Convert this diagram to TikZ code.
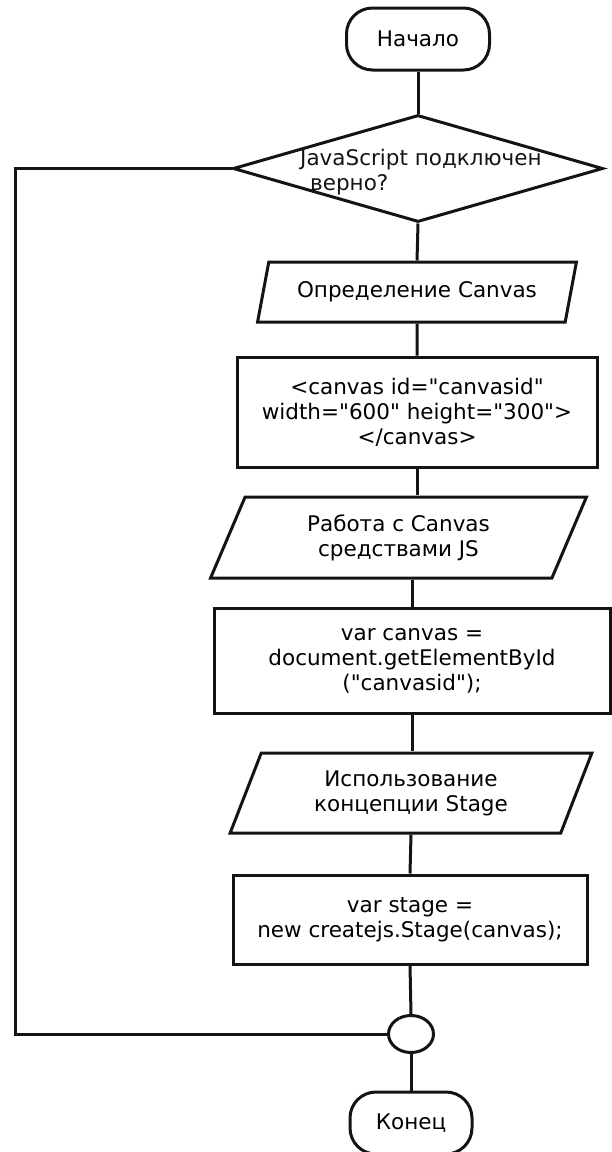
\documentclass[tikz,border=0pt]{standalone}
\usepackage{fontspec}
\setmainfont{DejaVu Sans}[Ligatures=TeXOff]
\usetikzlibrary{shapes.geometric}
\definecolor{ink}{HTML}{141414}
\begin{document}
\begin{tikzpicture}[x=1pt,y=-1pt,
    font=\fontsize{21.5}{25}\selectfont,
    wire/.style={draw=ink,line width=3pt},
    term/.style={wire,rectangle,rounded corners=26pt,minimum height=62pt,inner sep=0pt},
    decide/.style={wire,diamond,inner sep=0pt},
    io/.style={wire,trapezium,trapezium left angle=66,trapezium right angle=114,trapezium stretches=true,align=center,inner sep=0pt},
    proc/.style={wire,rectangle,align=center,inner sep=0pt},
    joint/.style={wire,ellipse,inner sep=0pt}]
  \useasboundingbox (0,0) rectangle (612,1152);
  % blocks of the chart, top to bottom
  \node[term,minimum width=143pt] (start) at (418,39) {Начало};
  \node[decide,minimum width=370pt,minimum height=107pt] (ask) at (418,168.5) {};
  \node[align=left,anchor=west,inner sep=0pt,text=ink] (asktext) at (300,172.5) {JavaScript подключен\\\hspace*{10pt}верно?};
  \node[io,minimum width=320pt,minimum height=60pt] (define) at (417,292) {Определение Canvas};
  \node[proc,minimum width=360pt,minimum height=110pt] (tag) at (417,412) {<canvas id="canvasid"\\width="600" height="300">\\</canvas>};
  \node[io,minimum width=377pt,minimum height=81pt] (work) at (398.5,537.5) {Работа с Canvas\\средствами JS};
  \node[proc,minimum width=396pt,minimum height=105pt] (getel) at (412,660.5) {var canvas =\\document.getElementById\\("canvasid");};
  \node[io,minimum width=362pt,minimum height=80pt] (stage) at (411,793) {Использование\\концепции Stage};
  \node[proc,minimum width=354pt,minimum height=89pt] (newstage) at (410,919.5) {var stage =\\new createjs.Stage(canvas);};
  \node[joint,minimum width=45pt,minimum height=37pt] (join) at (411,1034) {};
  \node[term,minimum width=122pt] (finish) at (411,1123) {Конец};
  \coordinate (back) at (15,600);
  % connectors
  \draw[wire] (start.south) -- (ask.north);
  \draw[wire] (ask.south) -- (define.north);
  \draw[wire] (define.south) -- (tag.north);
  \draw[wire] (tag.south) -- (tag.south |- work.north);
  \draw[wire] (work.south -| getel.north) -- (getel.north);
  \draw[wire] (getel.south) -- (getel.south |- stage.north);
  \draw[wire] (stage.south) -- (newstage.north);
  \draw[wire] (newstage.south) -- (join.north);
  \draw[wire] (join.south) -- (finish.north);
  \draw[wire] (ask.west) -| (back) |- (join.west);
\end{tikzpicture}
\end{document}
